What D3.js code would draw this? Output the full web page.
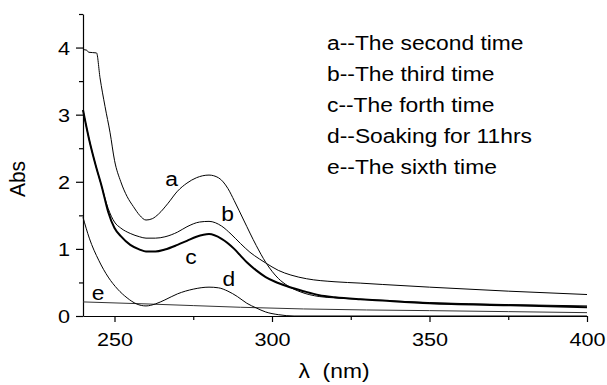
<!DOCTYPE html>
<html>
<head>
<meta charset="utf-8">
<script src="https://cdn.jsdelivr.net/npm/d3@7"></script>
<style>
  body { margin: 0; background: #fff; }
  svg text { font-family: "Liberation Sans", Arial, sans-serif; fill: #000; }
</style>
</head>
<body>
<script>
// spectra (wavelength in nm, absorbance)
var aNm  = [240, 241.2, 241.8, 244.3, 245.4, 247, 248.6, 250, 252, 254, 256, 258, 260, 262, 264, 267, 270, 273, 276, 280, 283, 286, 288, 291, 295, 298, 302, 305, 309, 315, 320, 330, 350, 375, 400];
var aAbs = [3.97, 3.96, 3.93, 3.92, 3.55, 3.12, 2.73, 2.32, 2.0, 1.78, 1.63, 1.50, 1.43, 1.45, 1.52, 1.68, 1.86, 1.98, 2.06, 2.10, 2.06, 1.90, 1.72, 1.43, 1.05, 0.80, 0.56, 0.45, 0.36, 0.29, 0.27, 0.245, 0.20, 0.17, 0.15];

var bNm  = [240, 242, 244, 246, 248, 250, 252, 255, 258, 260, 263, 266, 270, 273, 277, 280, 284, 287, 290, 293, 296, 298, 302, 306, 311, 320, 328, 335, 350, 375, 400];
var bAbs = [3.07, 2.62, 2.25, 1.92, 1.60, 1.40, 1.31, 1.23, 1.18, 1.16, 1.16, 1.18, 1.25, 1.33, 1.40, 1.41, 1.34, 1.22, 1.08, 0.95, 0.85, 0.79, 0.68, 0.61, 0.555, 0.51, 0.49, 0.47, 0.43, 0.37, 0.32];

var cNm  = [240, 242, 244, 246, 248, 250, 252, 255, 258, 260, 263, 266, 270, 273, 276, 280, 284, 288, 290, 292, 295, 298, 301, 305, 310, 315, 320, 328, 335, 350, 375, 400];
var cAbs = [3.07, 2.62, 2.25, 1.92, 1.55, 1.31, 1.19, 1.06, 0.99, 0.96, 0.96, 0.99, 1.06, 1.12, 1.18, 1.22, 1.15, 1.00, 0.90, 0.80, 0.68, 0.58, 0.51, 0.44, 0.37, 0.31, 0.28, 0.25, 0.23, 0.19, 0.16, 0.13];

var dNm  = [240, 242, 245, 248, 251, 254, 257, 260, 263, 266, 270, 275, 280, 283, 286, 289, 292, 295, 298, 302, 307, 400];
var dAbs = [1.47, 1.16, 0.83, 0.58, 0.40, 0.27, 0.18, 0.15, 0.18, 0.24, 0.33, 0.40, 0.43, 0.42, 0.37, 0.29, 0.19, 0.12, 0.06, 0.02, 0.0, 0.0];

var eNm  = [240, 260, 275, 290, 310, 330, 350, 375, 400];
var eAbs = [0.21, 0.18, 0.155, 0.13, 0.105, 0.09, 0.08, 0.065, 0.05];

var xMajor = [250, 300, 350, 400];
var xMinor = [275, 325, 375];
var yMajor = [0, 1, 2, 3, 4];
var yMinor = [0.5, 1.5, 2.5, 3.5, 4.5];

var legendText = ["a--The second time", "b--The third time", "c--The forth time", "d--Soaking for 11hrs", "e--The sixth time"];
// where each letter sits next to its curve (nm, abs)
var tagNm  = [268.1, 285.9, 274.3, 286.3, 244.8];
var tagAbs = [1.94, 1.41, 0.775, 0.44, 0.24];

var W = 607, H = 385;
var stretch = "scale(1.17,1)";

var svg = d3.select("body").append("svg")
    .attr("width", W)
    .attr("height", H);

var x = d3.scaleLinear().domain([240, 400]).range([83, 587]);
var y = d3.scaleLinear().domain([0, 4.5]).range([316, 14]);

// axes: major ticks with labels, then minor ticks
var gx = svg.append("g").attr("transform", "translate(0,316)")
    .call(d3.axisBottom(x).tickValues(xMajor).tickSize(6).tickPadding(11).tickSizeOuter(0));
svg.append("g").attr("transform", "translate(0,316)")
    .call(d3.axisBottom(x).tickValues(xMinor).tickSize(4).tickFormat("").tickSizeOuter(0))
    .select(".domain").remove();

var gy = svg.append("g").attr("transform", "translate(83,0)")
    .call(d3.axisLeft(y).tickValues(yMajor).tickFormat(d3.format("d")).tickSize(7).tickPadding(6).tickSizeOuter(0));
svg.append("g").attr("transform", "translate(83,0)")
    .call(d3.axisLeft(y).tickValues(yMinor).tickSize(4).tickFormat("").tickSizeOuter(0))
    .select(".domain").remove();

svg.selectAll(".domain, .tick line").attr("stroke", "#000").attr("stroke-width", 1.2);

// labels are slightly wide in the original, so stretch them
svg.selectAll(".tick text")
    .attr("font-size", 18.5)
    .attr("font-family", "Liberation Sans, Arial, sans-serif")
    .each(function(){
      var t = d3.select(this);
      var tx = +t.attr("x") || 0;
      t.attr("x", 0).attr("transform", "translate(" + tx + ",0) " + stretch);
    });
gy.selectAll(".tick text").attr("dy", "0.37em");

// curves
var line = d3.line()
    .x(function(d){ return x(d[0]); })
    .y(function(d){ return y(d[1]); })
    .curve(d3.curveMonotoneX);

var curves = [
  { nm: eNm, abs: eAbs, w: 1, col: "#333" },
  { nm: dNm, abs: dAbs, w: 1, col: "#000" },
  { nm: aNm, abs: aAbs, w: 1, col: "#000" },
  { nm: bNm, abs: bAbs, w: 1, col: "#000" },
  { nm: cNm, abs: cAbs, w: 2, col: "#000" }
];

svg.selectAll("path.curve")
  .data(curves)
  .enter()
  .append("path")
    .attr("class", "curve")
    .attr("fill", "none")
    .attr("stroke", function(d){ return d.col; })
    .attr("stroke-width", function(d){ return d.w; })
    .attr("d", function(d){ return line(d3.zip(d.nm, d.abs)); });

// curve letters
svg.selectAll("text.tag")
  .data(tagNm)
  .enter()
  .append("text")
    .attr("class", "tag")
    .attr("font-size", 19.5)
    .attr("text-anchor", "middle")
    .attr("transform", function(d, i){ return "translate(" + x(d) + "," + y(tagAbs[i]) + ") " + stretch; })
    .text(function(d, i){ return "abcde"[i]; });

// legend
svg.selectAll("text.leg")
  .data(legendText)
  .enter()
  .append("text")
    .attr("class", "leg")
    .attr("font-size", 19.5)
    .attr("transform", function(d, i){ return "translate(327," + (50 + i * 31) + ") " + stretch; })
    .text(function(d){ return d; });

// axis titles
svg.append("text")
    .attr("font-size", 19.5)
    .attr("text-anchor", "middle")
    .style("white-space", "pre")
    .attr("transform", "translate(334,377.5) " + stretch)
    .text("λ  (nm)");

svg.append("text")
    .attr("font-size", 21)
    .attr("text-anchor", "middle")
    .attr("transform", "translate(25,179) rotate(-90) scale(1,1.08)")
    .text("Abs");
</script>
</body>
</html>
